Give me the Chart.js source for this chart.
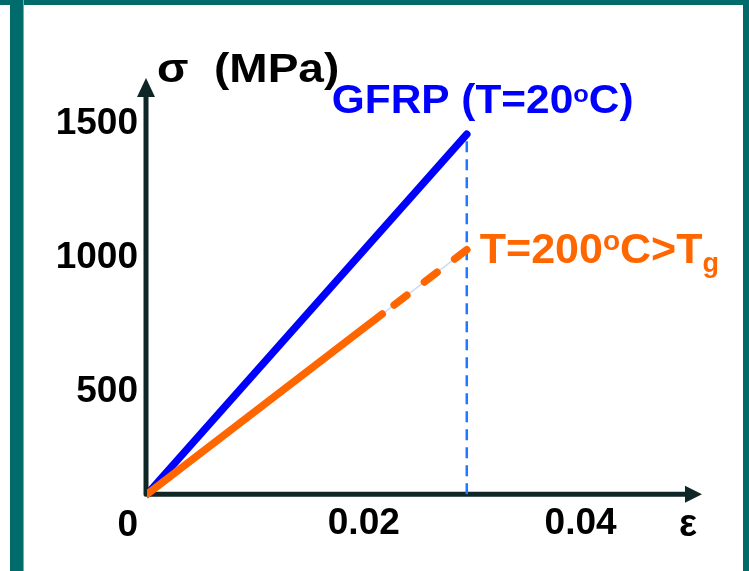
<!DOCTYPE html>
<html>
<head>
<meta charset="utf-8">
<title>σ-ε GFRP</title>
<script src="https://cdn.jsdelivr.net/npm/chart.js@4.4.1/dist/chart.umd.min.js"></script>
<style>
  html, body { margin: 0; padding: 0; background: #fff; }
  #marco { position: relative; width: 749px; height: 571px; overflow: hidden; background: #fff; }
  #marco .barra { position: absolute; background: #006b6b; z-index: 2; }
  #sup { left: 0; top: 0; width: 749px; height: 5px; }
  #izq { left: 10px; top: 0; width: 13px; height: 571px; border-right: 1px solid #6fb0b0; }
  #der { left: 743px; top: 0; width: 6px; height: 571px; }
  #grafico { position: absolute; left: 0; top: 0; }
</style>
</head>
<body>
<div id="marco">
  <div class="barra" id="sup"></div>
  <div class="barra" id="izq"></div>
  <div class="barra" id="der"></div>
  <canvas id="grafico" width="749" height="571"></canvas>
</div>
<script>
// deformación (ε) y tensión (MPa) de cada curva
var epsT20 = [0, 0.0295];
var sigmaT20 = [118, 1460];
var epsT200 = [0, 0.0217];
var sigmaT200 = [118, 790];
var epsT200Trazos = [0.0217, 0.0295];
var sigmaT200Trazos = [790, 1030];

// línea vertical de rotura
var epsRotura = [0.0295, 0.0295];
var sigmaRotura = [118, 1460];

// etiquetas de los ejes
var ticksSigma = [0, 500, 1000, 1500];
var ticksEps = [0.02, 0.04];
var sigmaCruce = 118;   // altura donde se cruzan los ejes

var FUENTE = '"Liberation Sans", Arial, sans-serif';
var COLOR_EJE = "#0f2626";

function puntos(xs, ys) {
    return xs.map(function (x, i) { return { x: x, y: ys[i] }; });
}

function textoCompuesto(ctx, partes, x, y, color, escalaX) {
    ctx.save();
    ctx.translate(x, y);
    ctx.scale(escalaX || 1, 1);
    ctx.fillStyle = color;
    ctx.textAlign = "left";
    ctx.textBaseline = "alphabetic";
    var cx = 0;
    partes.forEach(function (p) {
        ctx.font = "bold " + p[1] + "px " + FUENTE;
        ctx.fillText(p[0], cx, p[2] || 0);
        cx += ctx.measureText(p[0]).width;
    });
    ctx.restore();
}

// ejes con flecha, dibujados debajo de las curvas
var ejes = {
    id: "ejes",
    beforeDatasetsDraw: function (chart) {
        var ctx = chart.ctx;
        var area = chart.chartArea;
        var x0 = chart.scales.x.getPixelForValue(0) - 1;
        var y0 = chart.scales.y.getPixelForValue(sigmaCruce);
        ctx.save();
        ctx.strokeStyle = COLOR_EJE;
        ctx.fillStyle = COLOR_EJE;
        ctx.lineWidth = 5;
        ctx.lineJoin = "round";
        ctx.beginPath();
        ctx.moveTo(x0, area.top + 17);
        ctx.lineTo(x0, y0);
        ctx.lineTo(area.right - 16, y0);
        ctx.stroke();
        // flecha vertical
        ctx.beginPath();
        ctx.moveTo(x0, area.top);
        ctx.lineTo(x0 + 9, area.top + 19);
        ctx.lineTo(x0 - 9, area.top + 19);
        ctx.closePath();
        ctx.fill();
        // flecha horizontal
        ctx.beginPath();
        ctx.moveTo(area.right, y0);
        ctx.lineTo(area.right - 17, y0 - 8.5);
        ctx.lineTo(area.right - 17, y0 + 8.5);
        ctx.closePath();
        ctx.fill();
        ctx.restore();
    }
};

// números de los ejes, títulos y rótulos de las curvas
var rotulos = {
    id: "rotulos",
    afterDraw: function (chart) {
        var ctx = chart.ctx;
        var sx = chart.scales.x;
        var sy = chart.scales.y;
        var x0 = sx.getPixelForValue(0);
        var yBase = sy.getPixelForValue(0);
        ctx.save();
        ctx.fillStyle = "#000";
        ctx.font = "bold 37px " + FUENTE;
        ctx.textBaseline = "middle";
        ctx.textAlign = "right";
        ticksSigma.forEach(function (v) {
            ctx.fillText(String(v), x0 - 9, sy.getPixelForValue(v));
        });
        ctx.textAlign = "center";
        ticksEps.forEach(function (v) {
            ctx.fillText(String(v), sx.getPixelForValue(v), yBase - 2);
        });
        ctx.font = "bold 38px " + FUENTE;
        ctx.fillText("ε", chart.chartArea.right - 14, yBase);
        ctx.restore();

        textoCompuesto(ctx, [["σ  (MPa)", 40]], x0 + 10, 82, "#000", 1.15);

        var xf = sx.getPixelForValue(epsT20[1]);
        var yf = sy.getPixelForValue(sigmaT20[1]);
        textoCompuesto(ctx, [["GFRP (T=20", 40], ["o", 24, -11], ["C)", 40]],
            xf - 135, yf - 21, "#0000ff", 1.06);

        var xn = sx.getPixelForValue(epsT200Trazos[1]);
        var yn = sy.getPixelForValue(sigmaT200Trazos[1]);
        textoCompuesto(ctx, [["T=200", 43], ["o", 28, -13], ["C>T", 43], ["g", 27, 9]],
            xn + 13, yn + 13, "#ff6600", 1);
    }
};

var ctx = document.getElementById("grafico").getContext("2d");
var grafico = new Chart(ctx, {
    type: "scatter",
    data: {
        datasets: [
            {
                label: "T=200oC solido",
                data: puntos(epsT200, sigmaT200),
                showLine: true,
                borderColor: "#ff6600",
                borderWidth: 7.5,
                borderCapStyle: "round",
                pointRadius: 0
            },
            {
                label: "T=200oC trazos",
                data: puntos(epsT200Trazos, sigmaT200Trazos),
                showLine: true,
                borderColor: "#ff6600",
                borderWidth: 7.5,
                borderCapStyle: "round",
                borderDash: [16, 22],
                borderDashOffset: 23,
                pointRadius: 0
            },
            {
                label: "GFRP T=20oC",
                data: puntos(epsT20, sigmaT20),
                showLine: true,
                borderColor: "#0000ff",
                borderWidth: 7.5,
                borderCapStyle: "round",
                pointRadius: 0
            },
            {
                label: "guia",
                data: puntos(epsT200Trazos, sigmaT200Trazos),
                showLine: true,
                borderColor: "#cadcf6",
                borderWidth: 1.5,
                pointRadius: 0
            },
            {
                label: "rotura",
                data: puntos(epsRotura, sigmaRotura),
                showLine: true,
                borderColor: "#1f78ff",
                borderWidth: 2.5,
                borderDash: [11, 7],
                pointRadius: 0
            }
        ]
    },
    options: {
        responsive: false,
        animation: false,
        devicePixelRatio: 1,
        layout: { padding: { left: 147, right: 47, top: 78, bottom: 45 } },
        plugins: {
            legend: { display: false },
            tooltip: { enabled: false }
        },
        scales: {
            x: { type: "linear", min: 0, max: 0.0512, display: false },
            y: { type: "linear", min: 0, max: 1670, display: false }
        }
    },
    plugins: [ejes, rotulos]
});
</script>
</body>
</html>
